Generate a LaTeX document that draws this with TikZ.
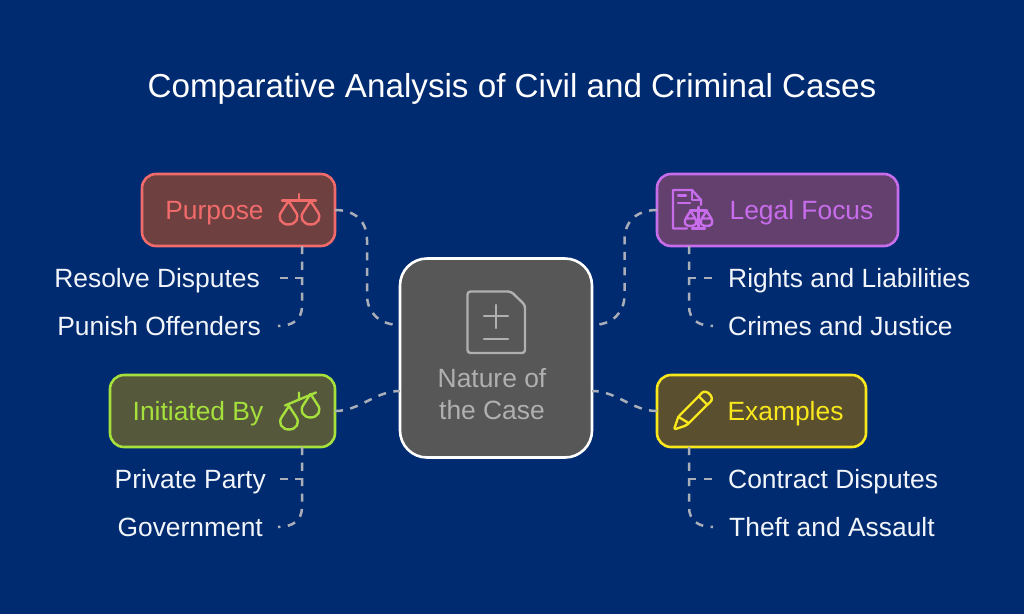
\documentclass[tikz,border=0pt]{standalone}
\usepackage{fontspec}
\setmainfont{Liberation Sans}
\usetikzlibrary{calc}
\definecolor{bg}{HTML}{002B70}
\definecolor{cred}{HTML}{F26B6B}
\definecolor{fred}{HTML}{6E4040}
\definecolor{cgrn}{HTML}{A6E03C}
\definecolor{fgrn}{HTML}{55583A}
\definecolor{cpur}{HTML}{C76DEB}
\definecolor{fpur}{HTML}{64406E}
\definecolor{cyel}{HTML}{F8E71C}
\definecolor{fyel}{HTML}{5A5030}
\definecolor{fctr}{HTML}{575757}
\definecolor{tctr}{HTML}{B0B0B0}
\definecolor{conn}{HTML}{A9AEB8}
\definecolor{leaftxt}{HTML}{F2F5FA}
\tikzset{
  x=1pt,y=-1pt,
  box/.style={draw=#1,line width=2.6pt,rounded corners=14pt,inner sep=0pt,outer sep=0pt,anchor=north west},
  label/.style={font=\fontsize{26.4}{30}\selectfont,text=#1,inner sep=0pt,text height=19pt,text depth=0pt},
  leaf/.style={font=\fontsize{26.4}{30}\selectfont,text=leaftxt,inner ysep=0pt,text height=18.5pt,text depth=0pt},
  link/.style={draw=conn,line width=2.5pt,dash pattern=on 8pt off 7.5pt},
  ico/.style={draw=#1,line width=2.4pt,line join=round,line cap=round},
  dropshape/.pic={\draw[ico=#1] (0,0) -- (-6.6,10) .. controls (-12,17) and (-7,23.5) .. (0,23.5) .. controls (7,23.5) and (12,17) .. (6.6,10) -- cycle;},
}
\begin{document}
\begin{tikzpicture}
\useasboundingbox (0,0) rectangle (1024,614);
\fill[bg] (0,0) rectangle (1024,614);
\node[font=\fontsize{33.2}{38}\selectfont,text=white,inner sep=0pt,text height=24pt,text depth=0pt] (title) at (512,85) {Comparative Analysis of Civil and Criminal Cases};

% boxes
\node[box=cred,fill=fred,minimum width=193pt,minimum height=72pt] (purpose) at (142,174) {};
\node[box=cgrn,fill=fgrn,minimum width=225pt,minimum height=72pt] (init) at (110,375) {};
\node[box=cpur,fill=fpur,minimum width=241pt,minimum height=72pt] (legal) at (657,174) {};
\node[box=cyel,fill=fyel,minimum width=209pt,minimum height=72pt] (examples) at (657,375) {};
\node[draw=white,line width=2.6pt,fill=fctr,rounded corners=27pt,inner sep=0pt,outer sep=0pt,anchor=north west,minimum width=192pt,minimum height=199pt] (center) at (400,258.5) {};

% box labels
\node[label=cred] (tpurpose) at (214.5,209.5) {Purpose};
\node[label=cgrn] (tinit) at (198,411) {Initiated By};
\node[label=cpur] (tlegal) at (801.5,209.5) {Legal Focus};
\node[label=cyel] (texamples) at (785.5,411) {Examples};
\node[label=tctr] (tn1) at (492,378) {Nature of};
\node[label=tctr] (tn2) at (492,410) {the Case};

% leaves
\node[leaf,inner xsep=18pt,anchor=east] (l1) at (278,278) {Resolve Disputes};
\node[leaf,inner xsep=17pt,anchor=east] (l2) at (278,326) {Punish Offenders};
\node[leaf,inner xsep=12pt,anchor=east] (l3) at (278,479) {Private Party};
\node[leaf,inner xsep=15pt,anchor=east] (l4) at (278,527) {Government};
\node[leaf,inner xsep=15pt,anchor=west] (r1) at (713,278) {Rights and Liabilities};
\node[leaf,inner xsep=15pt,anchor=west] (r2) at (713,326) {Crimes and Justice};
\node[leaf,inner xsep=15pt,anchor=west] (r3) at (713,479) {Contract Disputes};
\node[leaf,inner xsep=16pt,anchor=west] (r4) at (713,527) {Theft and Assault};

% anchor points on borders
\coordinate (cUL) at (400,325);
\coordinate (cLL) at (400,391);
\coordinate (cUR) at (592,325);
\coordinate (cLR) at (592,391);
\coordinate (pb) at (302,246);
\coordinate (ib) at (302,447);
\coordinate (lb) at (689,246);
\coordinate (eb) at (689,447);

% connectors to centre
\draw[link] (purpose.east) .. controls (356,210) and (367,222) .. (367,240) -- (367,295) .. controls (367,313) and (380,325) .. (cUL);
\draw[link] (legal.west) .. controls (636,210) and (624.5,222) .. (624.5,240) -- (624.5,295) .. controls (624.5,313) and (612,325) .. (cUR);
\draw[link] (init.east) .. controls (360,411) and (375,391) .. (cLL);
\draw[link] (examples.west) .. controls (632,411) and (617,391) .. (cLR);

% branch connectors
\draw[link] (pb) |- (l1.east);
\draw[link] (pb) -- (302,306) .. controls (302,320) and (292,326) .. (l2.east);
\draw[link] (ib) |- (l3.east);
\draw[link] (ib) -- (302,507) .. controls (302,521) and (292,527) .. (l4.east);
\draw[link] (lb) |- (r1.west);
\draw[link] (lb) -- (689,306) .. controls (689,320) and (699,326) .. (r2.west);
\draw[link] (eb) |- (r3.west);
\draw[link] (eb) -- (689,507) .. controls (689,521) and (699,527) .. (r4.west);

% balanced scales
\draw[ico=cred] (299,194) -- (299,200.5) (282,200.5) -- (316,200.5);
\pic at (288.5,201) {dropshape=cred};
\pic at (310.5,201) {dropshape=cred};
% tilted scales
\draw[ico=cgrn] (299,392.5) -- (299,400) (285,405.5) -- (316,392.5);
\pic at (289,406) {dropshape=cgrn};
\pic at (310.5,394) {dropshape=cgrn};
% legal document with scales
\draw[ico=cpur] (687,228.5) -- (673,228.5) -- (673,190) -- (692,190) -- (701,200) -- (701,205);
\draw[ico=cpur] (692,190) -- (692,200) -- (701,200);
\draw[ico=cpur] (678,195.5) -- (686,195.5) (678,203) -- (690,203);
\draw[ico=cpur] (698.5,207) -- (698.5,228.5) (692,228.5) -- (705,228.5) (690,210.5) -- (707,210.5);
\draw[ico=cpur] (690.5,211) -- (686,218) .. controls (683,224) and (686,226) .. (690.5,226) .. controls (695,226) and (698,224) .. (695,218) -- cycle (686,218.5) -- (695,218.5);
\draw[ico=cpur] (706.5,211) -- (702,218) .. controls (699,224) and (702,226) .. (706.5,226) .. controls (711,226) and (714,224) .. (711,218) -- cycle (702,218.5) -- (711,218.5);
% pencil
\begin{scope}[shift={(674,429.5)},rotate=45]
\draw[ico=cyel,rounded corners=2pt] (0,0) -- (12,-6) -- (43,-6) .. controls (52,-7) and (52,7) .. (43,6) -- (12,6) -- cycle;
\draw[ico=cyel] (12,-6) -- (15,6) (41,-6) -- (41,6);
\end{scope}
% centre document icon
\draw[draw=tctr,line width=2.4pt,line join=round,line cap=round,rounded corners=3pt] (511,291.5) -- (467.5,291.5) -- (467.5,353) -- (525,353) -- (525,305) -- cycle;
\draw[draw=tctr,line width=2.4pt,line cap=round] (484,316) -- (508,316) (496,305) -- (496,328) (484,339) -- (508,339);
\end{tikzpicture}
\end{document}
